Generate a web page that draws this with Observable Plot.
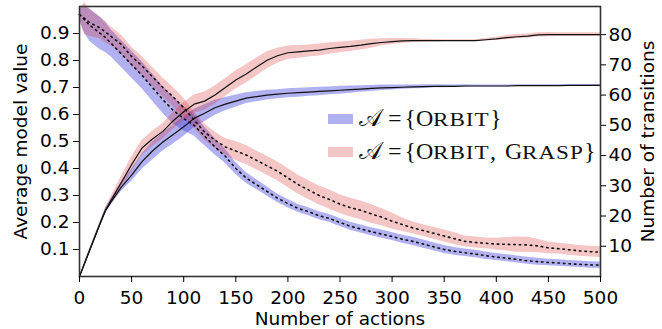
<!DOCTYPE html>
<html>
<head>
<meta charset="utf-8">
<script src="https://cdn.jsdelivr.net/npm/d3@7"></script>
<script src="https://cdn.jsdelivr.net/npm/@observablehq/plot@0.6"></script>
<style>
  html, body { margin: 0; padding: 0; background: #fff; }
  #wrap { position: relative; width: 662px; height: 329px; }
  #legend { position: absolute; left: 328px; top: 102px; font-family: "Liberation Serif", serif; font-size: 24px; color: #111; }
  .row { display: flex; align-items: center; height: 33px; white-space: nowrap; }
  .patch { width: 25px; height: 10px; margin-right: 6px; flex: none; }
  .cal { display: inline-block; width: 23px; }
  .eq { display: inline-block; margin-left: 6px; margin-right: 3px; }
  .sc { display: inline-block; font-size: 18.5px; letter-spacing: 0.8px; transform: scaleX(1.25); transform-origin: left center; }
  .cm { display: inline-block; margin-right: 3px; }
</style>
</head>
<body>
<div id="wrap"></div>
<script>
// Number of actions (x)
const actions = [0,5,10,15,20,25,30,
  40,50,60,70,80,90,100,
  110,120,130,140,150,160,170,180,190,200,
  210,220,230,240,250,260,270,280,290,300,
  310,320,330,340,350,360,370,380,390,400,
  410,420,430,440,450,460,470,480,490,500];

// Average model value, A = {Orbit}
const orbitValue = [0.97,0.95,0.93,0.915,0.90,0.885,0.865,
  0.825,0.785,0.745,0.70,0.655,0.615,0.585,
  0.56,0.52,0.48,0.445,0.40,0.365,0.34,0.315,0.29,0.27,
  0.252,0.24,0.225,0.215,0.20,0.186,0.176,0.166,0.157,0.148,
  0.138,0.13,0.12,0.11,0.10,0.093,0.088,0.083,0.077,0.072,
  0.068,0.063,0.058,0.055,0.052,0.05,0.047,0.045,0.043,0.042];
const orbitValueSpread = [0.02,0.05,0.06,0.06,0.06,0.055,0.05,
  0.05,0.05,0.05,0.05,0.05,0.05,0.045,
  0.04,0.035,0.03,0.026,0.022,0.02,0.018,0.017,0.016,0.015,
  0.015,0.015,0.015,0.015,0.015,0.015,0.015,0.015,0.015,0.015,
  0.015,0.015,0.015,0.015,0.015,0.014,0.014,0.014,0.014,0.013,
  0.013,0.013,0.013,0.013,0.012,0.012,0.012,0.012,0.012,0.012];

// Average model value, A = {Orbit, Grasp}
const graspValue = [0.97,0.955,0.94,0.93,0.92,0.905,0.89,
  0.86,0.815,0.78,0.74,0.70,0.665,0.625,
  0.58,0.535,0.505,0.48,0.465,0.45,0.43,0.41,0.39,0.365,
  0.34,0.32,0.30,0.285,0.268,0.255,0.245,0.232,0.22,0.205,
  0.192,0.18,0.17,0.16,0.15,0.14,0.13,0.126,0.123,0.12,
  0.119,0.118,0.117,0.113,0.106,0.103,0.099,0.095,0.092,0.09];
const graspValueSpread = [0.02,0.06,0.05,0.045,0.04,0.04,0.035,
  0.035,0.035,0.035,0.035,0.035,0.035,0.035,
  0.03,0.03,0.03,0.03,0.035,0.035,0.035,0.035,0.035,0.035,
  0.035,0.035,0.035,0.035,0.035,0.035,0.035,0.035,0.032,0.03,
  0.025,0.022,0.022,0.022,0.022,0.022,0.02,0.02,0.02,0.022,
  0.025,0.028,0.028,0.025,0.022,0.02,0.02,0.02,0.02,0.02];

// Number of transitions, A = {Orbit}
const orbitTransitions = [0,4.4,8.8,13.2,17.6,21.8,24.5,
  29.5,33.5,38,41.5,44.5,47,49.5,
  52.3,54,55.8,57,58,59,59.5,60,60.3,60.6,
  60.8,61,61.2,61.4,61.6,61.8,62,62.2,62.4,62.5,
  62.6,62.7,62.8,62.9,62.9,62.9,63,63,63,63,
  63,63.1,63.1,63.1,63.1,63.1,63.2,63.2,63.2,63.2];
const orbitTransitionsSpread = [0,0.3,0.4,0.5,0.6,0.8,1,
  1.5,2,2.5,3,3,3.2,3.2,
  3,2.8,2.5,2.2,2,1.8,1.7,1.6,1.5,1.5,
  1.5,1.4,1.4,1.3,1.3,1.2,1.1,1,0.9,0.8,
  0.7,0.6,0.6,0.5,0.5,0.4,0.4,0.3,0.3,0.3,
  0.3,0.3,0.3,0.3,0.3,0.3,0.3,0.3,0.3,0.3];

// Number of transitions, A = {Orbit, Grasp}
const graspTransitions = [0,4.5,9,13.4,17.8,22,25,
  31,37,42.5,45.5,48,51.5,54.5,
  57,58,60,62.5,65,67,69.3,71.5,73,74,
  74.3,74.6,74.9,75.4,75.8,76.1,76.5,77,77.4,77.7,
  77.9,78,78,78,78,78,78,78,78.3,78.6,
  79,79.3,79.5,79.9,80,80,80,80,80,80];
const graspTransitionsSpread = [0,0.3,0.3,0.3,0.3,0.8,1.2,
  2,2.5,2.5,2.5,2.5,2.8,3,
  3,3,3,3,3,3,3,2.8,2.5,2.2,
  2.1,2,2,1.9,1.8,1.7,1.6,1.5,1.2,1,
  0.8,0.6,0.5,0.4,0.3,0.3,0.3,0.3,0.4,0.5,
  0.7,0.7,0.7,0.7,0.7,0.6,0.6,0.6,0.6,0.6];

const xTicks = [0,50,100,150,200,250,300,350,400,450,500];
const leftTicks = [0.1,0.2,0.3,0.4,0.5,0.6,0.7,0.8,0.9];
const rightTicks = [10,20,30,40,50,60,70,80];
const TRANS_MAX = 89.3; // top of right axis

const rows = actions.map((a, i) => ({
  a,
  ov: orbitValue[i], ovs: orbitValueSpread[i],
  gv: graspValue[i], gvs: graspValueSpread[i],
  ot: orbitTransitions[i] / TRANS_MAX, ots: orbitTransitionsSpread[i] / TRANS_MAX,
  gt: graspTransitions[i] / TRANS_MAX, gts: graspTransitionsSpread[i] / TRANS_MAX
}));

const blue = "rgb(60,60,220)", blueOp = 0.4;
const red = "rgb(220,50,50)", redOp = 0.28;
const font = "DejaVu Sans";

const chart = Plot.plot({
  width: 662, height: 329,
  marginLeft: 79, marginRight: 62, marginTop: 6, marginBottom: 53,
  style: { fontFamily: font, fontSize: "18px", color: "#000", background: "#fff", overflow: "visible" },
  x: { domain: [0, 500] },
  y: { domain: [0, 1] },
  marks: [
    Plot.areaY(rows, { x: "a", y1: d => d.ov - d.ovs, y2: d => d.ov + d.ovs, fill: blue, fillOpacity: blueOp }),
    Plot.areaY(rows, { x: "a", y1: d => d.ot - d.ots, y2: d => d.ot + d.ots, fill: blue, fillOpacity: blueOp }),
    Plot.areaY(rows, { x: "a", y1: d => d.gv - d.gvs, y2: d => d.gv + d.gvs, fill: red, fillOpacity: redOp }),
    Plot.areaY(rows, { x: "a", y1: d => d.gt - d.gts, y2: d => d.gt + d.gts, fill: red, fillOpacity: redOp }),
    Plot.lineY(rows, { x: "a", y: "ov", stroke: "#111", strokeWidth: 1.6, strokeDasharray: "1.5,4" }),
    Plot.lineY(rows, { x: "a", y: "gv", stroke: "#111", strokeWidth: 1.6, strokeDasharray: "1.5,4" }),
    Plot.lineY(rows, { x: "a", y: "ot", stroke: "#111", strokeWidth: 1.2 }),
    Plot.lineY(rows, { x: "a", y: "gt", stroke: "#111", strokeWidth: 1.2 }),
    Plot.frame({ stroke: "#333", strokeWidth: 1.6 }),
    Plot.axisX({ ticks: xTicks, tickSize: 6, tickPadding: 8, fontSize: 18.5,
      label: "Number of actions", labelAnchor: "center", labelArrow: "none", labelOffset: 48 }),
    Plot.axisY({ anchor: "left", ticks: leftTicks, tickFormat: ".1f", tickSize: 6, tickPadding: 4, fontSize: 18.5,
      label: "Average model value", labelAnchor: "center", labelArrow: "none", labelOffset: 66 }),
    Plot.axisY({ anchor: "right", ticks: rightTicks.map(t => t / TRANS_MAX), tickFormat: d => Math.round(d * TRANS_MAX),
      tickSize: 5, tickPadding: 3, fontSize: 18.5,
      label: "Number of transitions", labelAnchor: "center", labelArrow: "none", labelOffset: 53 })
  ]
});

const wrap = document.getElementById("wrap");
wrap.appendChild(chart);

const legendItems = [
  { color: blue, op: blueOp, html: '<span class="cal">\u{1D49C}</span><span class="eq">=</span>{O<span class="sc">RBIT</span>}' },
  { color: red, op: redOp, html: '<span class="cal">\u{1D49C}</span><span class="eq">=</span>{O<span class="sc">RBIT</span><span class="cm">,</span> G<span class="sc">RASP</span>}' }
];
const legend = document.createElement("div");
legend.id = "legend";
for (const it of legendItems) {
  const row = document.createElement("div");
  row.className = "row";
  const p = document.createElement("div");
  p.className = "patch";
  p.style.background = it.color;
  p.style.opacity = it.op;
  const t = document.createElement("span");
  t.innerHTML = it.html;
  row.appendChild(p);
  row.appendChild(t);
  legend.appendChild(row);
}
wrap.appendChild(legend);
// compensate layout width for horizontally stretched small caps
legend.querySelectorAll(".sc").forEach(el => {
  el.style.marginRight = (el.offsetWidth * 0.25) + "px";
});
</script>
</body>
</html>
